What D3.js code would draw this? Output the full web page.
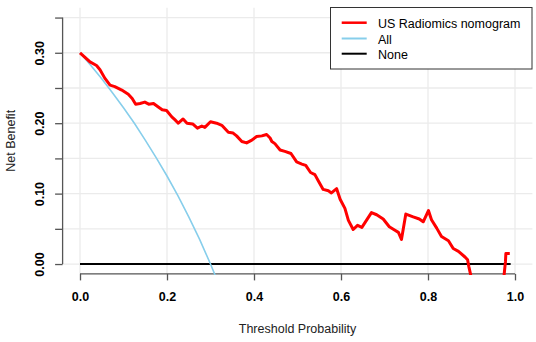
<!DOCTYPE html>
<html>
<head>
<meta charset="utf-8">
<script src="https://cdn.jsdelivr.net/npm/d3@7"></script>
<style>
  body { margin: 0; background: #fff; }
  text { font-family: "Liberation Sans", Arial, sans-serif; }
</style>
</head>
<body>
<div id="chart"></div>
<script>
// Threshold probabilities and net benefit
const modelThreshold = [0, 0.023, 0.038, 0.046, 0.057, 0.069, 0.080, 0.096, 0.111, 0.120, 0.128, 0.138, 0.149, 0.158, 0.169, 0.180, 0.189, 0.199, 0.211, 0.218,
  0.226, 0.237, 0.246, 0.259, 0.270, 0.280, 0.287, 0.300, 0.314, 0.326, 0.341, 0.352, 0.360, 0.372, 0.383, 0.395, 0.406, 0.418, 0.429, 0.437,
  0.441, 0.448, 0.460, 0.471, 0.485, 0.498, 0.510, 0.519, 0.530, 0.540, 0.548, 0.559, 0.571, 0.578, 0.590, 0.598, 0.609, 0.617, 0.628, 0.638,
  0.648, 0.670, 0.682, 0.697, 0.711, 0.724, 0.732, 0.739, 0.749, 0.766, 0.780, 0.789, 0.801, 0.808, 0.820, 0.831, 0.847, 0.858, 0.870, 0.885,
  0.891, 0.894, 0.898, 0.905, 0.970, 0.975, 0.978, 0.979, 0.988];
const modelBenefit = [0.300, 0.287, 0.282, 0.276, 0.264, 0.254, 0.252, 0.247, 0.241, 0.235, 0.227, 0.228, 0.230, 0.227, 0.228, 0.223, 0.219, 0.218, 0.209, 0.205,
  0.200, 0.206, 0.200, 0.199, 0.193, 0.196, 0.194, 0.202, 0.200, 0.197, 0.187, 0.186, 0.182, 0.174, 0.172, 0.176, 0.181, 0.182, 0.184, 0.179,
  0.174, 0.171, 0.162, 0.160, 0.157, 0.145, 0.142, 0.140, 0.130, 0.127, 0.118, 0.106, 0.104, 0.101, 0.107, 0.092, 0.079, 0.062, 0.049, 0.055,
  0.052, 0.073, 0.070, 0.064, 0.053, 0.048, 0.045, 0.035, 0.071, 0.067, 0.064, 0.060, 0.076, 0.063, 0.051, 0.039, 0.033, 0.022, 0.018, 0.010,
  0.006, -0.004, -0.015, -0.050, -0.050, -0.015, 0.003, 0.015, 0.015];

const allThreshold = [0, 0.025, 0.05, 0.075, 0.10, 0.125, 0.15, 0.175, 0.20, 0.225, 0.25, 0.275, 0.30, 0.32];
const allBenefit = [0.300, 0.282, 0.263, 0.243, 0.222, 0.200, 0.176, 0.151, 0.125, 0.097, 0.067, 0.035, 0.000, -0.030];

const noneThreshold = [0, 0.99];
const noneBenefit = [0, 0];

const xTicks = [0, 0.2, 0.4, 0.6, 0.8, 1.0];
const yTicks = [0, 0.05, 0.10, 0.15, 0.20, 0.25, 0.30, 0.35];
const yLabelled = [0, 0.10, 0.20, 0.30];

const seriesNames = ["US Radiomics nomogram", "All", "None"];
const seriesColors = ["#ff0000", "#87ceeb", "#000000"];

const W = 536, H = 342;
const svg = d3.select("#chart").append("svg")
  .attr("width", W).attr("height", H);

// plot region (R style, 4% padding)
const x = d3.scaleLinear().domain([-0.04, 1.04]).range([62.6, 532.4]);
const y = d3.scaleLinear().domain([-0.014, 0.364]).range([273.9, 7.7]);

svg.append("clipPath").attr("id", "plotclip")
  .append("rect")
  .attr("x", x.range()[0]).attr("y", y.range()[1])
  .attr("width", x.range()[1] - x.range()[0])
  .attr("height", y.range()[0] - y.range()[1] + 1);

// grid
const grid = svg.append("g");
grid.selectAll(".hg").data(yTicks).enter().append("line")
  .attr("x1", x.range()[0]).attr("x2", x.range()[1])
  .attr("y1", d => y(d)).attr("y2", d => y(d))
  .attr("stroke", "#ebebeb").attr("stroke-width", 1.3);
grid.selectAll(".vg").data(xTicks).enter().append("line")
  .attr("x1", d => x(d)).attr("x2", d => x(d))
  .attr("y1", y.range()[1]).attr("y2", y.range()[0])
  .attr("stroke", "#ebebeb").attr("stroke-width", 1.3);

// axes
const fmt = d3.format(".2f");
const yAxis = svg.append("g")
  .attr("transform", "translate(" + x.range()[0] + ",0)")
  .call(d3.axisLeft(y).tickValues(yTicks).tickSize(7.5).tickSizeOuter(0)
    .tickFormat(d => yLabelled.some(v => Math.abs(v - d) < 1e-9) ? fmt(d) : ""));
yAxis.select(".domain").remove();
yAxis.append("line")
  .attr("x1", 0).attr("x2", 0).attr("y1", y(0)).attr("y2", y(0.35))
  .attr("stroke", "#555").attr("stroke-width", 1.3);
yAxis.selectAll(".tick line").attr("stroke", "#555").attr("stroke-width", 1.3);
yAxis.selectAll(".tick text")
  .attr("x", null).attr("dy", null)
  .attr("transform", "translate(-18.5,0) rotate(-90)")
  .attr("text-anchor", "middle")
  .attr("fill", "#000")
  .style("font-size", "12.5px").style("font-weight", "bold");

const xAxis = svg.append("g")
  .attr("transform", "translate(0," + y.range()[0] + ")")
  .call(d3.axisBottom(x).tickValues(xTicks).tickSize(6.5).tickSizeOuter(0)
    .tickFormat(d3.format(".1f")));
xAxis.select(".domain").remove();
xAxis.append("line")
  .attr("x1", x(0)).attr("x2", x(1)).attr("y1", 0).attr("y2", 0)
  .attr("stroke", "#555").attr("stroke-width", 1.3);
xAxis.selectAll(".tick line").attr("stroke", "#555").attr("stroke-width", 1.3);
xAxis.selectAll(".tick text")
  .attr("y", 27).attr("dy", null)
  .attr("fill", "#000")
  .style("font-size", "12.5px").style("font-weight", "bold");

// titles
svg.append("text")
  .attr("x", (x.range()[0] + x.range()[1]) / 2).attr("y", 332.5)
  .attr("text-anchor", "middle").attr("fill", "#222")
  .style("font-size", "12.5px")
  .text("Threshold Probability");
svg.append("text")
  .attr("transform", "translate(14.5," + ((y.range()[0] + y.range()[1]) / 2) + ") rotate(-90)")
  .attr("text-anchor", "middle").attr("fill", "#222")
  .style("font-size", "12.5px")
  .text("Net Benefit");

// curves
const line = d3.line().x(d => x(d[0])).y(d => y(d[1]));
const plot = svg.append("g").attr("clip-path", "url(#plotclip)");

plot.append("path")
  .datum(noneThreshold.map((t, i) => [t, noneBenefit[i]]))
  .attr("d", line).attr("fill", "none")
  .attr("stroke", seriesColors[2]).attr("stroke-width", 2);

plot.append("path")
  .datum(allThreshold.map((t, i) => [t, allBenefit[i]]))
  .attr("d", line).attr("fill", "none")
  .attr("stroke", seriesColors[1]).attr("stroke-width", 1.6);

plot.append("path")
  .datum(modelThreshold.map((t, i) => [t, modelBenefit[i]]))
  .attr("d", line).attr("fill", "none")
  .attr("stroke", seriesColors[0]).attr("stroke-width", 3)
  .attr("stroke-linejoin", "round");

// legend
const legend = svg.append("g");
legend.append("rect")
  .attr("x", 330.5).attr("y", 7.5).attr("width", 201.5).attr("height", 61.5)
  .attr("fill", "#fff").attr("stroke", "#333").attr("stroke-width", 1);
const rowY = [22.7, 38.5, 53.7];
const rows = legend.selectAll(".row").data(seriesNames).enter().append("g")
  .attr("transform", (d, i) => "translate(0," + rowY[i] + ")");
rows.append("line")
  .attr("x1", 341.7).attr("x2", 366.7)
  .attr("stroke", (d, i) => seriesColors[i])
  .attr("stroke-width", (d, i) => i === 0 ? 2.5 : 2);
rows.append("text")
  .attr("x", 378).attr("y", 5)
  .attr("fill", "#000")
  .style("font-size", "12.5px")
  .text(d => d);
</script>
</body>
</html>
